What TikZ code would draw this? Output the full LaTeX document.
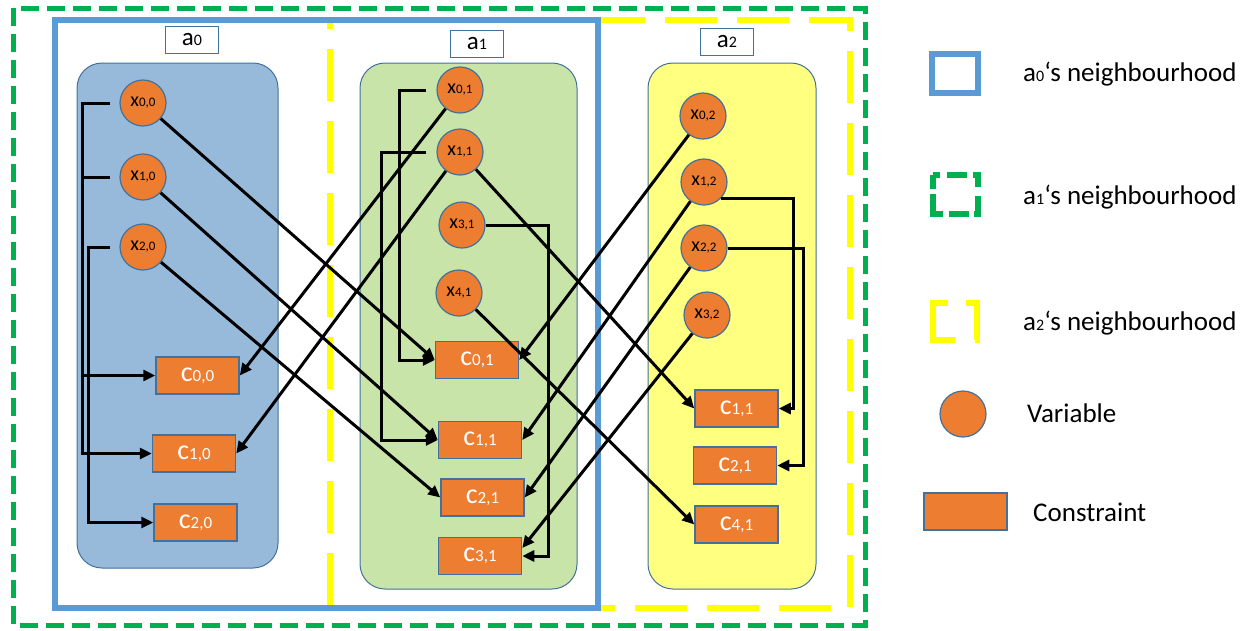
\documentclass[tikz,border=0pt]{standalone}
\usepackage{fontspec}
\setmainfont{Carlito}
\usetikzlibrary{arrows.meta}
\definecolor{orng}{HTML}{ED7D31}
\definecolor{bdr}{HTML}{41719C}
\definecolor{nbblue}{HTML}{5B9BD5}
\definecolor{nbgreen}{HTML}{00B050}
\definecolor{nbyellow}{HTML}{FFFF00}
\definecolor{clA}{HTML}{97BADB}
\definecolor{clB}{HTML}{C9E4A8}
\definecolor{clC}{HTML}{FFFF80}
\newcommand\lo[2]{{\fontsize{#1}{#1}\selectfont #2}}
\tikzset{
  var/.style={circle, fill=orng, draw=bdr, line width=1.2pt, minimum size=46pt, inner sep=0pt, font=\fontsize{20}{20}\selectfont},
  con/.style={rectangle, fill=orng, draw=bdr, line width=1.5pt, minimum width=83pt, minimum height=37pt, inner sep=0pt, text=white, font=\fontsize{28}{28}\selectfont},
  lbl/.style={rectangle, draw=bdr, fill=white, line width=1.2pt, minimum width=53pt, minimum height=27pt, inner sep=0pt, font=\fontsize{25}{25}\selectfont},
  cluster/.style={rounded corners=25pt, draw=bdr, line width=1pt},
  link/.style={line width=3pt, -{Triangle[length=12pt,width=11pt]}},
  greendash/.style={draw=nbgreen, line width=5pt, dash pattern=on 18pt off 8pt},
  yellowdash/.style={draw=nbyellow, line width=6pt, dash pattern=on 52pt off 20pt},
  bluebox/.style={draw=nbblue, line width=6pt},
  legbox/.style={inner sep=0pt},
  legtext/.style={anchor=west, inner sep=0pt, font=\fontsize{27}{27}\selectfont},
}
\begin{document}
\begin{tikzpicture}[x=1pt,y=-1pt]
\useasboundingbox (0,0) rectangle (1255,630);
% neighbourhood frames
\draw[greendash] (13,8) rectangle (865,625);
\draw[yellowdash, dash phase=43pt] (330,20) rectangle (850,608);
\draw[bluebox] (55,20) rectangle (598,608);
% clusters
\draw[cluster, fill=clA] (77,63) rectangle (278,568);
\draw[cluster, fill=clB] (360,63) rectangle (577,589);
\draw[cluster, fill=clC] (648,63) rectangle (816,589);
% agent labels
\node[lbl] (la0) at (192,40) {a\lo{16}{0}};
\node[lbl] (la1) at (477,44) {a\lo{16}{1}};
\node[lbl] (la2) at (727,42) {a\lo{16}{2}};
% variables
\node[var] (x00) at (143,103) {x\lo{13}{0,0}};
\node[var] (x10) at (143,177) {x\lo{13}{1,0}};
\node[var] (x20) at (143,247) {x\lo{13}{2,0}};
\node[var] (x01) at (460,90) {x\lo{13}{0,1}};
\node[var] (x11) at (460,152) {x\lo{13}{1,1}};
\node[var] (x31) at (462,225) {x\lo{13}{3,1}};
\node[var] (x41) at (459,293) {x\lo{13}{4,1}};
\node[var] (x02) at (703,116) {x\lo{13}{0,2}};
\node[var] (x12) at (704,182) {x\lo{13}{1,2}};
\node[var] (x22) at (704,248) {x\lo{13}{2,2}};
\node[var] (x32) at (707,315) {x\lo{13}{3,2}};
% constraints
\node[con] (c00) at (197.5,375.5) {c\lo{17}{0,0}};
\node[con] (c10) at (194,453.5) {c\lo{17}{1,0}};
\node[con] (c20) at (195.5,522.5) {c\lo{17}{2,0}};
\node[con] (c01) at (477,360) {c\lo{17}{0,1}};
\node[con] (c11) at (480,440) {c\lo{17}{1,1}};
\node[con] (c21) at (482.5,497.5) {c\lo{17}{2,1}};
\node[con] (c31) at (480,556) {c\lo{17}{3,1}};
\node[con] (d11) at (736.5,408.5) {c\lo{17}{1,1}};
\node[con] (d21) at (735,465.5) {c\lo{17}{2,1}};
\node[con] (d41) at (736.5,524.5) {c\lo{17}{4,1}};
% elbow connectors
\draw[link] ([xshift=-9pt]x00.west) -- ++(-28,0) |- (c00.west);
\draw[link] ([xshift=-9pt]x10.west) -- ++(-28,0) |- (c10.west);
\draw[link] ([xshift=-9pt]x20.west) -- ++(-22,0) |- (c20.west);
\draw[link] ([xshift=-10pt]x01.west) -- ++(-27,0) |- (c01.west);
\draw[link] ([xshift=-10pt]x11.west) -- ++(-45,0) |- (c11.west);
\draw[link] (x31.east) -- ++(63,0) |- (c31.east);
\draw[link] (x12.-45) -- ++(73,0) |- (d11.east);
\draw[link] (x22.east) -- ++(76,0) |- (d21.east);
% diagonal connectors
\draw[link] (x00) -- (c01.west);
\draw[link] (x10) -- (c11.west);
\draw[link] (x20) -- (c21.west);
\draw[link] (x01) -- (c00.east);
\draw[link] (x11) -- (c10.east);
\draw[link] (x11) -- (d11.west);
\draw[link] (x41) -- (d41.west);
\draw[link] (x02) -- (c01.east);
\draw[link] (x12) -- (c11.east);
\draw[link] (x22) -- (c21.east);
\draw[link] (x32) -- ([yshift=8pt]c31.east);
% legend
\node[bluebox, minimum width=46pt, minimum height=39pt, inner sep=0pt] (lg0) at (955,73.5) {};
\node[legbox, minimum width=45pt, minimum height=39pt] (lg1) at (955.5,194.5) {};
\draw[nbgreen, line width=6pt, dash pattern=on 7pt off 7pt on 20pt off 6pt on 18pt off 9pt on 22pt off 5pt on 20pt off 6pt on 30pt off 5pt on 13pt off 0pt]
  (lg1.north west) -- (lg1.north east) -- (lg1.south east) -- (lg1.south west) -- cycle;
\node[legbox, minimum width=44pt, minimum height=37pt] (lg2) at (955,321.5) {};
\draw[nbyellow, line width=6pt] ([xshift=15pt]lg2.north west) -- (lg2.north west) -- (lg2.south west) -- ([xshift=22pt]lg2.south west);
\draw[nbyellow, line width=6pt] ([xshift=-11pt]lg2.north east) -- (lg2.north east) -- (lg2.south east) -- ([xshift=-2pt]lg2.south east);
\node[var] (lg3) at (963,414) {};
\node[con] (lg4) at (965.5,511.5) {};
\node[legtext] (t0) at (1023,74) {a\lo{16}{0}‘s neighbourhood};
\node[legtext] (t1) at (1023,197) {a\lo{16}{1}‘s neighbourhood};
\node[legtext] (t2) at (1023,323) {a\lo{16}{2}‘s neighbourhood};
\node[legtext] (t3) at (1027,413) {Variable};
\node[legtext] (t4) at (1033,512) {Constraint};
\end{tikzpicture}
\end{document}
